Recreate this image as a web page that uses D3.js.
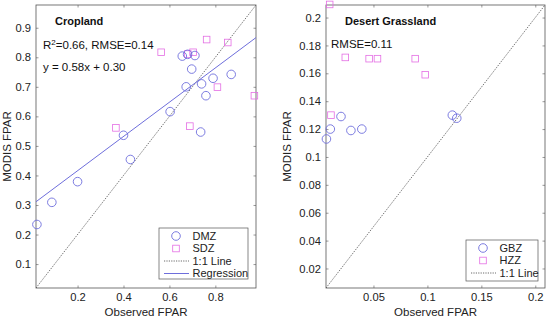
<!DOCTYPE html>
<meta charset="utf-8">
<script src="https://d3js.org/d3.v7.js"></script>
<style>
  body { margin: 0; background: #fff; }
  text { font-family: "Liberation Sans", Arial, sans-serif; }
</style>
<div id="chart"></div>
<script>

// ---- Cropland panel data
const dmzX = [0.656, 0.679, 0.711, 0.697, 0.673, 0.740, 0.790, 0.869, 0.759, 0.603, 0.400, 0.736, 0.430, 0.200, 0.088, 0.023];
const dmzY = [0.804, 0.810, 0.806, 0.760, 0.700, 0.710, 0.729, 0.742, 0.670, 0.616, 0.536, 0.547, 0.454, 0.379, 0.309, 0.234];
const sdzX = [0.367, 0.564, 0.680, 0.703, 0.762, 0.854, 0.809, 0.970, 0.689];
const sdzY = [0.561, 0.817, 0.811, 0.817, 0.860, 0.850, 0.699, 0.670, 0.567];
const regSlope = 0.58, regIntercept = 0.30;
const cropXTicks = [0.2, 0.4, 0.6, 0.8];
const cropYTicks = [0.1, 0.2, 0.3, 0.4, 0.5, 0.6, 0.7, 0.8, 0.9];

// ---- Desert grassland panel data
const gbzX = [0.0064, 0.0100, 0.0199, 0.0291, 0.0392, 0.1231, 0.1272];
const gbzY = [0.1129, 0.1200, 0.1290, 0.1190, 0.1200, 0.1300, 0.1278];
const hzzX = [0.0094, 0.0239, 0.0460, 0.0537, 0.0887, 0.0980, 0.0106];
const hzzY = [0.2094, 0.1714, 0.1705, 0.1705, 0.1705, 0.1590, 0.1300];
const desXTicks = [0.05, 0.1, 0.15, 0.2];
const desYTicks = [0.02, 0.04, 0.06, 0.08, 0.1, 0.12, 0.14, 0.16, 0.18, 0.2];

const blue = "#6e6edc", pink = "#e46ee4", axisCol = "#555";

const svg = d3.select("#chart").append("svg")
  .attr("width", 550).attr("height", 321);

function panel(opt) {
  const x = d3.scaleLinear().domain(opt.domain).range([opt.left, opt.right]);
  const y = d3.scaleLinear().domain(opt.domain).range([opt.bottom, opt.top]);
  const g = svg.append("g");
  const fmt = d => String(+d.toFixed(3));

  g.append("clipPath").attr("id", opt.id)
    .append("rect").attr("x", opt.left).attr("y", opt.top)
    .attr("width", opt.right - opt.left).attr("height", opt.bottom - opt.top);

  // axes, ticks inward (MATLAB style, box on)
  const ax = [
    [d3.axisBottom(x).tickValues(opt.xTicks).tickFormat(fmt), `translate(0,${opt.bottom})`],
    [d3.axisTop(x).tickValues(opt.xTicks).tickFormat(""), `translate(0,${opt.top})`],
    [d3.axisLeft(y).tickValues(opt.yTicks).tickFormat(fmt), `translate(${opt.left},0)`],
    [d3.axisRight(y).tickValues(opt.yTicks).tickFormat(""), `translate(${opt.right},0)`]
  ];
  ax.forEach(([a, t]) => {
    const s = g.append("g").attr("transform", t)
      .call(a.tickSize(-2.5).tickPadding(5));
    s.select(".domain").remove();
    s.selectAll("line").attr("stroke", axisCol).attr("stroke-width", 0.6);
    s.selectAll("text").attr("font-size", 11.2).attr("fill", "#222")
      .attr("font-family", "Liberation Sans, Arial, sans-serif");
  });
  g.append("rect").attr("x", opt.left).attr("y", opt.top)
    .attr("width", opt.right - opt.left).attr("height", opt.bottom - opt.top)
    .attr("fill", "none").attr("stroke", axisCol).attr("stroke-width", 0.8);

  const plot = g.append("g").attr("clip-path", `url(#${opt.id})`);
  // 1:1 line
  plot.append("line")
    .attr("x1", x(opt.domain[0])).attr("y1", y(opt.domain[0]))
    .attr("x2", x(opt.domain[1])).attr("y2", y(opt.domain[1]))
    .attr("stroke", "#444").attr("stroke-width", 0.8).attr("stroke-dasharray", "1.2,1.2");
  if (opt.reg) {
    plot.append("line")
      .attr("x1", x(opt.domain[0])).attr("y1", y(opt.reg[0] * opt.domain[0] + opt.reg[1]))
      .attr("x2", x(opt.domain[1])).attr("y2", y(opt.reg[0] * opt.domain[1] + opt.reg[1]))
      .attr("stroke", blue).attr("stroke-width", 1);
  }
  const pts = g.append("g");
  pts.selectAll("rect.sq").data(d3.zip(opt.sqX, opt.sqY)).join("rect")
    .attr("x", d => x(d[0]) - 3.3).attr("y", d => y(d[1]) - 3.3)
    .attr("width", 6.6).attr("height", 6.6)
    .attr("fill", "none").attr("stroke", pink).attr("stroke-width", 0.8);
  pts.selectAll("circle").data(d3.zip(opt.cX, opt.cY)).join("circle")
    .attr("cx", d => x(d[0])).attr("cy", d => y(d[1])).attr("r", 4.3)
    .attr("fill", "none").attr("stroke", blue).attr("stroke-width", 0.9);

  // labels
  g.append("text").attr("x", (opt.left + opt.right) / 2).attr("y", 316)
    .attr("text-anchor", "middle").attr("font-size", 11.5).attr("fill", "#222")
    .text("Observed FPAR");
  g.append("text")
    .attr("transform", `translate(${opt.yLabelX},${(opt.top + opt.bottom) / 2}) rotate(-90)`)
    .attr("text-anchor", "middle").attr("font-size", 11.5).attr("fill", "#222")
    .text("MODIS FPAR");
  g.append("text").attr("x", opt.left + 19).attr("y", 25)
    .attr("font-size", 11).attr("font-weight", "bold").attr("fill", "#111")
    .text(opt.title);
  opt.notes(g, opt.left + 7);

  // legend
  const L = opt.legend;
  g.append("rect").attr("x", L.x).attr("y", L.y).attr("width", L.w).attr("height", L.h)
    .attr("fill", "#fff").attr("stroke", axisCol).attr("stroke-width", 0.7);
  L.items.forEach((it, i) => {
    const cy = L.y + 8 + i * 12.5, mx = L.x + 17;
    if (it.type === "circle") {
      g.append("circle").attr("cx", mx).attr("cy", cy).attr("r", 4.3)
        .attr("fill", "none").attr("stroke", blue).attr("stroke-width", 0.9);
    } else if (it.type === "square") {
      g.append("rect").attr("x", mx - 3.3).attr("y", cy - 3.3).attr("width", 6.6).attr("height", 6.6)
        .attr("fill", "none").attr("stroke", pink).attr("stroke-width", 0.8);
    } else {
      g.append("line").attr("x1", L.x + 5).attr("x2", L.x + 30).attr("y1", cy).attr("y2", cy)
        .attr("stroke", it.type === "dot" ? "#444" : blue).attr("stroke-width", it.type === "dot" ? 0.8 : 1)
        .attr("stroke-dasharray", it.type === "dot" ? "1.2,1.2" : null);
    }
    g.append("text").attr("x", L.x + 33.5).attr("y", cy + 3.9)
      .attr("font-size", 11).attr("fill", "#222").text(it.label);
  });
}

panel({
  id: "clipA", left: 36, right: 256, top: 5, bottom: 288, domain: [0.019, 0.977],
  xTicks: cropXTicks, yTicks: cropYTicks, yLabelX: 11,
  cX: dmzX, cY: dmzY, sqX: sdzX, sqY: sdzY, reg: [regSlope, regIntercept],
  title: "Cropland",
  notes: (g, x0) => {
    const t = g.append("text").attr("x", x0).attr("y", 49).attr("font-size", 11.5).attr("fill", "#111");
    t.append("tspan").text("R");
    t.append("tspan").attr("dy", -4.5).attr("font-size", 8).text("2");
    t.append("tspan").attr("dy", 4.5).text("=0.66, RMSE=0.14");
    g.append("text").attr("x", x0).attr("y", 71).attr("font-size", 11.5).attr("fill", "#111")
      .text("y = 0.58x + 0.30");
  },
  legend: { x: 159, y: 228, w: 89, h: 51, items: [
    { type: "circle", label: "DMZ" }, { type: "square", label: "SDZ" },
    { type: "dot", label: "1:1 Line" }, { type: "line", label: "Regression" }] }
});

panel({
  id: "clipB", left: 326, right: 545, top: 5, bottom: 288, domain: [0.006, 0.209],
  xTicks: desXTicks, yTicks: desYTicks, yLabelX: 291,
  cX: gbzX, cY: gbzY, sqX: hzzX, sqY: hzzY, reg: null,
  title: "Desert Grassland",
  notes: (g, x0) => {
    g.append("text").attr("x", x0 - 2).attr("y", 48).attr("font-size", 11.5).attr("fill", "#111")
      .text("RMSE=0.11");
  },
  legend: { x: 466, y: 240, w: 72, h: 41, items: [
    { type: "circle", label: "GBZ" }, { type: "square", label: "HZZ" },
    { type: "dot", label: "1:1 Line" }] }
});
</script>
